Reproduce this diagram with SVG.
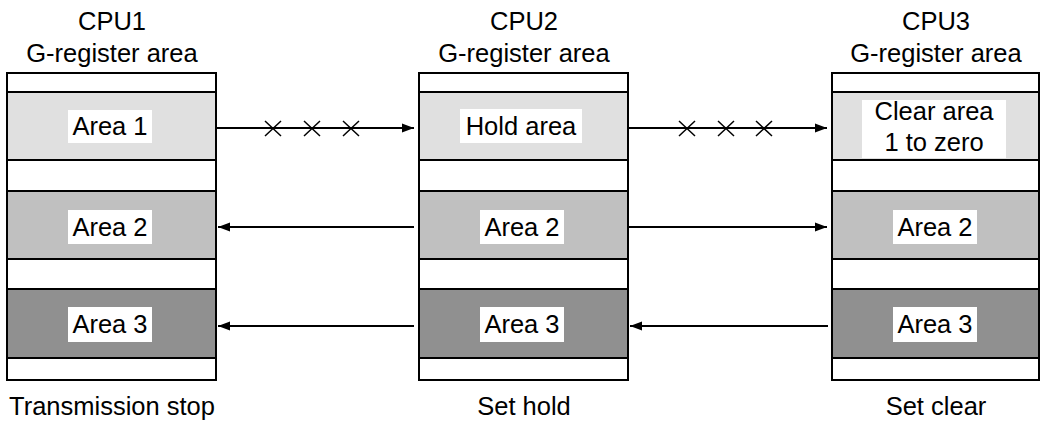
<svg xmlns="http://www.w3.org/2000/svg" width="1040" height="422" viewBox="0 0 1040 422">
<defs>
<style>
text{font-family:"Liberation Sans",Arial,sans-serif;font-size:25.5px;fill:#000;text-anchor:middle}
.frame{fill:none;stroke:#000;stroke-width:2}
.sep{stroke:#000;stroke-width:2}
.l1{fill:#e0e0e0}
.l2{fill:#c0c0c0}
.l3{fill:#909090}
.lbl{fill:#fff}
.conn{stroke:#000;stroke-width:1.8;fill:none}
.x{stroke:#000;stroke-width:1.5}
</style>
<marker id="ah" markerUnits="userSpaceOnUse" markerWidth="13" markerHeight="12" refX="12" refY="6" orient="auto">
<path d="M0,1.5 L12,6 L0,10.5 Z" fill="#000"/>
</marker>
</defs>
<rect width="1040" height="422" fill="#fff"/>

<g id="cpu1">
<text x="112" y="30">CPU1</text>
<text x="112" y="62">G-register area</text>
<rect class="l1" x="7" y="92" width="209" height="68"/>
<rect class="l2" x="7" y="191" width="209" height="68"/>
<rect class="l3" x="7" y="289" width="209" height="69"/>
<rect class="frame" x="7" y="73" width="209" height="307"/>
<line class="sep" x1="7" y1="92" x2="216" y2="92"/>
<line class="sep" x1="7" y1="160" x2="216" y2="160"/>
<line class="sep" x1="7" y1="191" x2="216" y2="191"/>
<line class="sep" x1="7" y1="259" x2="216" y2="259"/>
<line class="sep" x1="7" y1="289" x2="216" y2="289"/>
<line class="sep" x1="7" y1="358" x2="216" y2="358"/>
<rect class="lbl" x="68" y="110" width="84" height="33"/>
<text x="110" y="135">Area 1</text>
<rect class="lbl" x="68" y="210" width="84" height="34"/>
<text x="110" y="236">Area 2</text>
<rect class="lbl" x="68" y="307" width="84" height="35"/>
<text x="110" y="333">Area 3</text>
<text x="112" y="415">Transmission stop</text>
</g>

<g id="cpu2">
<text x="524" y="30">CPU2</text>
<text x="524" y="62">G-register area</text>
<rect class="l1" x="419" y="92" width="209" height="68"/>
<rect class="l2" x="419" y="191" width="209" height="68"/>
<rect class="l3" x="419" y="289" width="209" height="69"/>
<rect class="frame" x="419" y="73" width="209" height="307"/>
<line class="sep" x1="419" y1="92" x2="628" y2="92"/>
<line class="sep" x1="419" y1="160" x2="628" y2="160"/>
<line class="sep" x1="419" y1="191" x2="628" y2="191"/>
<line class="sep" x1="419" y1="259" x2="628" y2="259"/>
<line class="sep" x1="419" y1="289" x2="628" y2="289"/>
<line class="sep" x1="419" y1="358" x2="628" y2="358"/>
<rect class="lbl" x="460" y="109" width="122" height="34"/>
<text x="521" y="135">Hold area</text>
<rect class="lbl" x="480" y="210" width="84" height="34"/>
<text x="522" y="236">Area 2</text>
<rect class="lbl" x="480" y="307" width="84" height="35"/>
<text x="522" y="333">Area 3</text>
<text x="524" y="415">Set hold</text>
</g>

<g id="cpu3">
<text x="936" y="30">CPU3</text>
<text x="936" y="62">G-register area</text>
<rect class="l1" x="832" y="92" width="207" height="68"/>
<rect class="l2" x="832" y="191" width="207" height="68"/>
<rect class="l3" x="832" y="289" width="207" height="69"/>
<rect class="frame" x="832" y="73" width="207" height="307"/>
<line class="sep" x1="832" y1="92" x2="1039" y2="92"/>
<line class="sep" x1="832" y1="160" x2="1039" y2="160"/>
<line class="sep" x1="832" y1="191" x2="1039" y2="191"/>
<line class="sep" x1="832" y1="259" x2="1039" y2="259"/>
<line class="sep" x1="832" y1="289" x2="1039" y2="289"/>
<line class="sep" x1="832" y1="358" x2="1039" y2="358"/>
<rect class="lbl" x="862" y="100" width="144" height="58"/>
<text x="934" y="120">Clear area</text>
<text x="934" y="151">1 to zero</text>
<rect class="lbl" x="893" y="210" width="84" height="34"/>
<text x="935" y="236">Area 2</text>
<rect class="lbl" x="893" y="307" width="84" height="35"/>
<text x="935" y="333">Area 3</text>
<text x="936" y="415">Set clear</text>
</g>

<g id="connectors">
<line class="conn" x1="217" y1="128" x2="414" y2="128" marker-end="url(#ah)"/>
<line class="conn" x1="629" y1="128" x2="827" y2="128" marker-end="url(#ah)"/>
<line class="conn" x1="414" y1="227" x2="218" y2="227" marker-end="url(#ah)"/>
<line class="conn" x1="629" y1="227" x2="827" y2="227" marker-end="url(#ah)"/>
<line class="conn" x1="414" y1="326" x2="218" y2="326" marker-end="url(#ah)"/>
<line class="conn" x1="828" y1="326" x2="630" y2="326" marker-end="url(#ah)"/>
<g id="marks">
<path class="x" d="M265,121 L281,136 M281,121 L265,136"/>
<path class="x" d="M304,121 L320,136 M320,121 L304,136"/>
<path class="x" d="M343,121 L359,136 M359,121 L343,136"/>
<path class="x" d="M679,121 L695,136 M695,121 L679,136"/>
<path class="x" d="M718,121 L734,136 M734,121 L718,136"/>
<path class="x" d="M756,121 L772,136 M772,121 L756,136"/>
</g>
</g>
</svg>
